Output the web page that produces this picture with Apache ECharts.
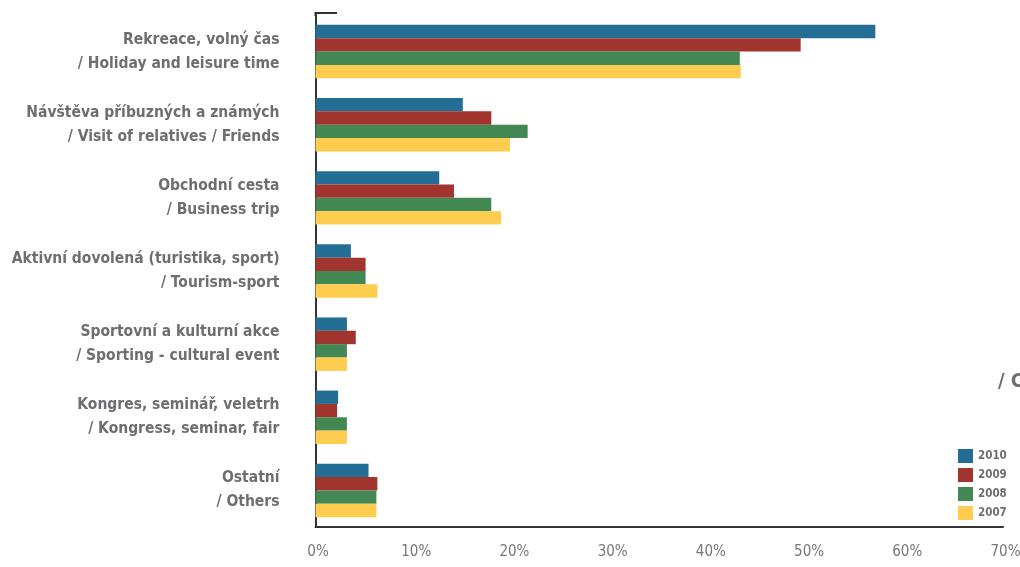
<!DOCTYPE html>
<html>
<head>
<meta charset="utf-8">
<script src="https://cdn.jsdelivr.net/npm/echarts@6/dist/echarts.min.js"></script>
<style>
html,body{margin:0;padding:0;background:#fff;}
#chart{width:1020px;height:567px;}
</style>
</head>
<body>
<div id="chart"></div>
<script>
const categories = [
  'Rekreace, volný čas\n/ Holiday and leisure time',
  'Návštěva příbuzných a známých\n/ Visit of relatives / Friends',
  'Obchodní cesta\n/ Business trip',
  'Aktivní dovolená (turistika, sport)\n/ Tourism-sport',
  'Sportovní a kulturní akce\n/ Sporting - cultural event',
  'Kongres, seminář, veletrh\n/ Kongress, seminar, fair',
  'Ostatní\n/ Others'
];
const years = ['2010', '2009', '2008', '2007'];
const v2010 = [57.0, 15.0, 12.6, 3.6, 3.2, 2.3, 5.4];
const v2009 = [49.4, 17.9, 14.1, 5.1, 4.1, 2.2, 6.3];
const v2008 = [43.2, 21.6, 17.9, 5.1, 3.2, 3.2, 6.2];
const v2007 = [43.3, 19.8, 18.9, 6.3, 3.2, 3.2, 6.2];
const xTicks = [0, 10, 20, 30, 40, 50, 60, 70];
const colors = ['#246E96', '#A1342D', '#438853', '#FECC4E'];

const gray = '#6d6e71';
const condFont = '"Liberation Sans Narrow", "DejaVu Sans Condensed", "Noto Sans", sans-serif';
const chart = echarts.init(document.getElementById('chart'), null, {renderer: 'canvas'});
const values = [v2010, v2009, v2008, v2007];

chart.setOption({
  animation: false,
  color: colors,
  grid: {left: 315.5, right: 17, top: 15, bottom: 40, containLabel: false, outerBoundsMode: 'none'},
  legend: {
    orient: 'vertical',
    left: 953, top: 444,
    itemWidth: 15, itemHeight: 14, itemGap: 5,
    icon: 'rect',
    data: years,
    textStyle: {color: gray, fontFamily: condFont, fontWeight: 'bold', fontSize: 11.5}
  },
  xAxis: {
    type: 'value', min: xTicks[0], max: xTicks[xTicks.length - 1], interval: 10,
    axisLine: {show: true, lineStyle: {color: '#333', width: 2}},
    axisTick: {show: false},
    splitLine: {show: false},
    axisLabel: {
      formatter: v => v + '%', color: '#777', fontSize: 15,
      fontFamily: condFont, margin: 18,
      padding: [0, 0, 0, 5]
    }
  },
  yAxis: {
    type: 'category', data: categories, inverse: true,
    axisLine: {show: true, lineStyle: {color: '#333', width: 2}},
    axisTick: {show: false},
    axisLabel: {
      color: gray, fontFamily: condFont, fontWeight: 'bold', fontSize: 15.5,
      lineHeight: 24, margin: 36, align: 'right'
    }
  },
  graphic: [
    {type: 'line', shape: {x1: 315, y1: 13, x2: 337, y2: 13}, style: {stroke: '#333', lineWidth: 2}},
    {type: 'line', shape: {x1: 315.5, y1: 12, x2: 315.5, y2: 16}, style: {stroke: '#333', lineWidth: 2}},
    {type: 'text', left: 998, top: 372, style: {text: '/ C', fill: gray, font: 'bold 20px ' + condFont}}
  ],
  series: years.map((y, i) => ({
    name: y, type: 'bar', data: values[i],
    barGap: '0%', barCategoryGap: '27%'
  }))
});
</script>
</body>
</html>
